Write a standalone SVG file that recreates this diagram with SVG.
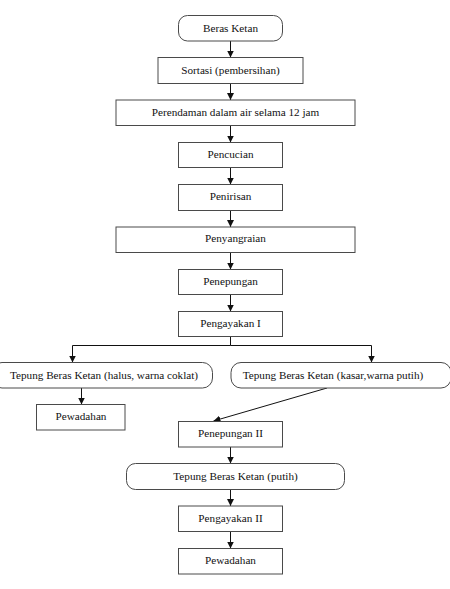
<svg xmlns="http://www.w3.org/2000/svg" width="450" height="589" viewBox="0 0 450 589">
<defs>
<style>
.b{fill:#fff;stroke:#4a4a4a;stroke-width:1}
.t{font-family:'Liberation Serif','Times New Roman',serif;font-size:11.2px;fill:#111;text-anchor:middle}
.c{fill:none;stroke:#111;stroke-width:1}
</style>
<marker id="ah" viewBox="0 0 8 8" refX="8" refY="4" markerWidth="7" markerHeight="7" markerUnits="userSpaceOnUse" orient="auto">
<path d="M0,0 L8,4 L0,8 Z" fill="#111"/>
</marker>
</defs>
<rect width="450" height="589" fill="#fff"/>
<g id="connectors">
<line class="c" x1="230.5" y1="41" x2="230.5" y2="57.5" marker-end="url(#ah)"/>
<line class="c" x1="230.5" y1="83.5" x2="230.5" y2="100" marker-end="url(#ah)"/>
<line class="c" x1="230.5" y1="125.5" x2="230.5" y2="142.5" marker-end="url(#ah)"/>
<line class="c" x1="230.5" y1="167.5" x2="230.5" y2="184.5" marker-end="url(#ah)"/>
<line class="c" x1="230.5" y1="210.5" x2="230.5" y2="227" marker-end="url(#ah)"/>
<line class="c" x1="230.5" y1="252.5" x2="230.5" y2="269.5" marker-end="url(#ah)"/>
<line class="c" x1="230.5" y1="294.5" x2="230.5" y2="311.5" marker-end="url(#ah)"/>
<polyline class="c" points="230.5,336.5 230.5,345.5 72.5,345.5 72.5,362.5" marker-end="url(#ah)"/>
<polyline class="c" points="230.5,345.5 371.5,345.5 371.5,362.5" marker-end="url(#ah)"/>
<line class="c" x1="81.5" y1="388" x2="81.5" y2="404.5" marker-end="url(#ah)"/>
<line class="c" x1="327" y1="388" x2="213.5" y2="421" marker-end="url(#ah)"/>
<line class="c" x1="230.5" y1="447" x2="230.5" y2="463.5" marker-end="url(#ah)"/>
<line class="c" x1="230.5" y1="489.5" x2="230.5" y2="506" marker-end="url(#ah)"/>
<line class="c" x1="230.5" y1="531.5" x2="230.5" y2="548.5" marker-end="url(#ah)"/>
</g>
<g id="n1"><rect class="b" x="178.5" y="15.5" width="104" height="25.5" rx="9"/><text class="t" x="230.5" y="32">Beras Ketan</text></g>
<g id="n2"><rect class="b" x="158" y="57.5" width="145" height="26"/><text class="t" x="230.5" y="74">Sortasi (pembersihan)</text></g>
<g id="n3"><rect class="b" x="116" y="100" width="239" height="25.5"/><text class="t" x="235.5" y="116">Perendaman dalam air selama 12 jam</text></g>
<g id="n4"><rect class="b" x="178.5" y="142.5" width="104" height="25"/><text class="t" x="230.5" y="157.5">Pencucian</text></g>
<g id="n5"><rect class="b" x="178.5" y="184.5" width="104" height="26"/><text class="t" x="230.5" y="199.5">Penirisan</text></g>
<g id="n6"><rect class="b" x="116" y="227" width="239" height="25.5"/><text class="t" x="235.5" y="242">Penyangraian</text></g>
<g id="n7"><rect class="b" x="178.5" y="269.5" width="104" height="25"/><text class="t" x="230.5" y="284.5">Penepungan</text></g>
<g id="n8"><rect class="b" x="178.5" y="311.5" width="104" height="25"/><text class="t" x="230.5" y="326.5">Pengayakan I</text></g>
<g id="n9"><rect class="b" x="-8" y="362.5" width="220.5" height="25.5" rx="10"/><text class="t" x="104" y="379">Tepung Beras Ketan (halus, warna coklat)</text></g>
<g id="n10"><rect class="b" x="231" y="362.5" width="220" height="25.5" rx="10"/><text class="t" x="333" y="379">Tepung Beras Ketan (kasar,warna putih)</text></g>
<g id="n11"><rect class="b" x="36.5" y="404.5" width="88.5" height="25.5"/><text class="t" x="81" y="419.5">Pewadahan</text></g>
<g id="n12"><rect class="b" x="178.5" y="421.5" width="104" height="25.5"/><text class="t" x="230.5" y="436.5">Penepungan II</text></g>
<g id="n13"><rect class="b" x="126.5" y="463.5" width="218" height="26" rx="9"/><text class="t" x="235.5" y="480">Tepung Beras Ketan (putih)</text></g>
<g id="n14"><rect class="b" x="178.5" y="506" width="104" height="25.5"/><text class="t" x="230.5" y="521.5">Pengayakan II</text></g>
<g id="n15"><rect class="b" x="178.5" y="548.5" width="104" height="25.5"/><text class="t" x="230.5" y="563.5">Pewadahan</text></g>
</svg>
